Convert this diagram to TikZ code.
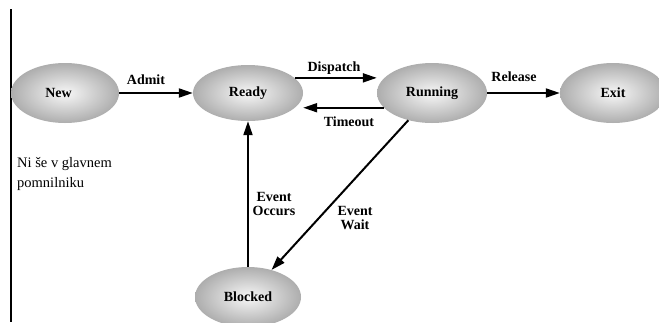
\documentclass[tikz,border=0pt]{standalone}
\usepackage{fontspec}
\setmainfont{Liberation Serif}
\usetikzlibrary{shapes.geometric,arrows.meta}

\tikzset{
  state/.style={ellipse, inner sep=0pt, minimum width=#1, minimum height=58pt,
    shading=radial, inner color=gray!6, outer color=gray!64,
    font=\fontsize{14}{15}\selectfont\bfseries},
  state/.default=110pt,
  trans/.style={line width=2pt, -{Triangle[length=14pt,width=9pt]}},
  lbl/.style={font=\fontsize{14}{14.5}\selectfont\bfseries, align=center, inner sep=0pt},
  note/.style={font=\fontsize{14.5}{20}\selectfont, align=left, inner sep=0pt, anchor=north west}
}

\begin{document}
\begin{tikzpicture}[x=1pt, y=-1pt]
  \useasboundingbox (0,0) rectangle (659,322);
  \fill[white] (0,0) rectangle (659,322);

  % left margin rule
  \draw[line width=1.6pt] (11,9) -- (11,322);

  % process states
  \node[state=108pt, minimum height=60pt] (new) at (65,93) {\hspace*{-13pt}New};
  \node[state=110pt, minimum height=56pt] (ready) at (248,93) {Ready};
  \node[state=110pt, minimum height=60pt] (running) at (432,93) {Running};
  \node[state=106pt, minimum height=60pt] (exit) at (613,93) {Exit};
  \node[state=106pt, minimum height=60pt] (blocked) at (248,297) {Blocked};

  % transitions
  \draw[trans] (new.east) -- (ready.west);
  \draw[trans] (ready.18) -- (ready.18 -| running.west);
  \draw[trans] (running.197) -- (running.197 -| ready.east);
  \draw[trans] (running.east) -- (exit.west);
  \draw[trans] (running.229) -- (blocked.49);
  \draw[trans] (blocked.north) -- (ready.south);

  % transition labels
  \node[lbl] (ladmit) at (146,80) {Admit};
  \node[lbl] (ldisp) at (334,68) {Dispatch};
  \node[lbl] (ltime) at (349,122) {Timeout};
  \node[lbl] (lrel) at (514,77) {Release};
  \node[lbl] (locc) at (274,204) {Event\\Occurs};
  \node[lbl] (lwait) at (355,218) {Event\\Wait};

  % side note
  \node[note] (note) at (17,157) {Ni še v glavnem\\pomnilniku};
\end{tikzpicture}
\end{document}
